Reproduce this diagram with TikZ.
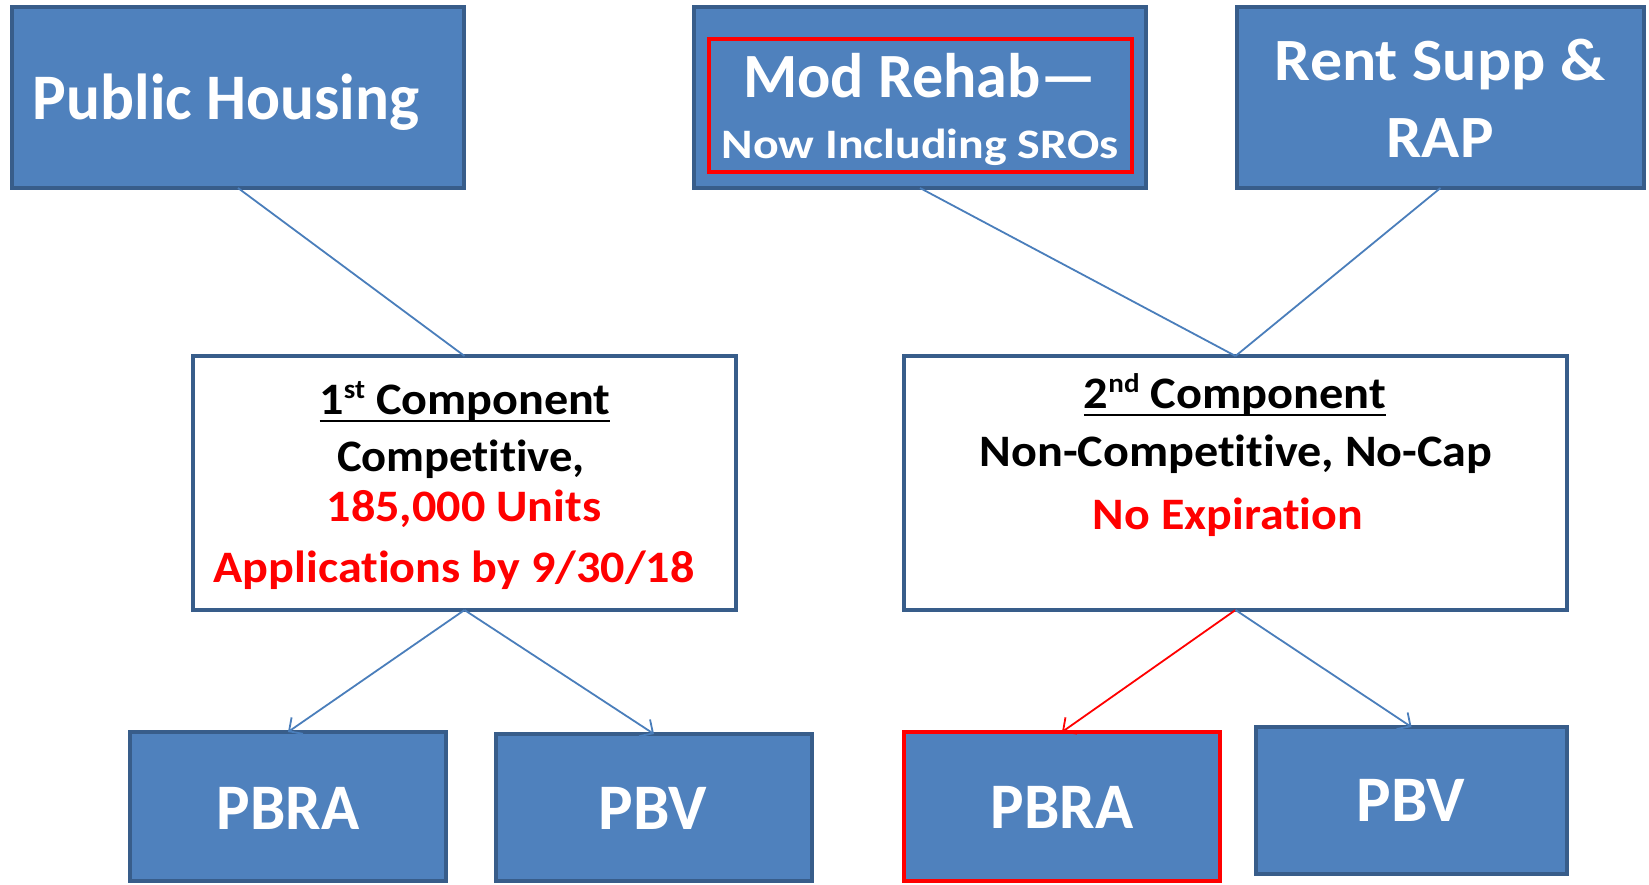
\documentclass[tikz,border=0pt]{standalone}
\usepackage{graphicx}
\usepackage{fontspec}
\setmainfont{Carlito}[Ligatures={NoCommon}]
\usetikzlibrary{arrows.meta}
\definecolor{boxfill}{HTML}{4F81BD}
\definecolor{boxline}{HTML}{385D8A}
\definecolor{connc}{HTML}{4A7EBB}
\definecolor{hired}{HTML}{FF0000}
\newcommand{\hsx}[2]{\scalebox{#1}[1]{#2}}
\newcommand{\nti}{t\kern0pt i}
\begin{document}
\begin{tikzpicture}[x=1pt,y=-1pt,
  bluebox/.style={draw=boxline, fill=boxfill, line width=4.5pt, inner sep=0pt, outer sep=0pt},
  whitebox/.style={draw=boxline, fill=white, line width=4pt, inner sep=0pt, outer sep=0pt},
  redframe/.style={draw=hired, line width=4.5pt, inner sep=0pt, outer sep=0pt},
  txt/.style={anchor=base, inner sep=0pt, outer sep=0pt},
  wtxt/.style={txt, text=white},
  btxt/.style={txt, text=black, font=\bfseries\fontsize{45}{50}\selectfont},
  rtxt/.style={txt, text=hired, font=\bfseries\fontsize{45}{50}\selectfont},
  connline/.style={draw=connc, line width=1.8pt},
  arr/.style={connline, -{Straight Barb[length=10pt,width=20pt,line width=1.8pt]}},
]
\useasboundingbox (0,0) rectangle (1649,884);

% top boxes
\node[bluebox, minimum width=452pt, minimum height=181pt] (ph) at (238,97.5) {};
\node[bluebox, minimum width=452pt, minimum height=181pt] (mr) at (920,97.5) {};
\node[redframe, minimum width=423pt, minimum height=133pt] (mrin) at (920.5,105.5) {};
\node[bluebox, minimum width=407pt, minimum height=181pt] (rs) at (1440.5,97.5) {};

% component boxes
\node[whitebox, minimum width=543pt, minimum height=254pt] (c1) at (464.5,483) {};
\node[whitebox, minimum width=663pt, minimum height=254pt] (c2) at (1235.5,483) {};

% bottom boxes
\node[bluebox, minimum width=316pt, minimum height=149pt] (pbra1) at (288,806.5) {};
\node[bluebox, minimum width=316pt, minimum height=147pt] (pbv1) at (654,807.5) {};
\node[bluebox, draw=hired, minimum width=316pt, minimum height=149pt] (pbra2) at (1062,806.5) {};
\node[bluebox, minimum width=311pt, minimum height=147pt] (pbv2) at (1411.5,800.5) {};

% texts
\node[wtxt, font=\bfseries\fontsize{65}{70}\selectfont] (tph) at (226,119) {\hsx{0.975}{Public Housing}};
\node[wtxt, font=\bfseries\fontsize{63}{70}\selectfont] (tmr1) at (920,97) {\hsx{0.985}{Mod Rehab—}};
\node[wtxt, font=\bfseries\fontsize{42}{48}\selectfont] (tmr2) at (920,158) {\hsx{1.14}{Now Including SROs}};
\node[wtxt, font=\bfseries\fontsize{60}{66}\selectfont] (trs1) at (1440,80) {\hsx{1.065}{Rent Supp \&}};
\node[wtxt, font=\bfseries\fontsize{60}{66}\selectfont] (trs2) at (1440,157) {\hsx{1.05}{RAP}};

\node[btxt] (tc1a) at (465,414) {\hsx{1.07}{1\raisebox{16pt}{\fontsize{27}{27}\selectfont st} Component}};
\draw[line width=2.5pt] ([yshift=-7pt]tc1a.base west) -- ([yshift=-7pt]tc1a.base east);
\node[btxt] (tc1b) at (461,471) {\hsx{1.035}{Compe\nti\nti ve,}};
\node[rtxt] (tc1c) at (464,521) {\hsx{1.07}{185,000 Units}};
\node[rtxt] (tc1d) at (454,582) {\hsx{1.07}{Applica\nti ons by 9/30/18}};

\node[btxt] (tc2a) at (1235,408) {\hsx{1.075}{2\raisebox{16pt}{\fontsize{27}{27}\selectfont nd} Component}};
\draw[line width=2.5pt] ([yshift=-7pt]tc2a.base west) -- ([yshift=-7pt]tc2a.base east);
\node[btxt] (tc2b) at (1236,466) {\hsx{1.07}{Non-Compe\nti\nti ve, No-Cap}};
\node[rtxt] (tc2c) at (1228,529) {\hsx{1.065}{No Expira\nti on}};

\node[wtxt, font=\bfseries\fontsize{65}{70}\selectfont] (tp1) at (288,829) {\hsx{0.97}{PBRA}};
\node[wtxt, font=\bfseries\fontsize{65}{70}\selectfont] (tp2) at (653,829) {PBV};
\node[wtxt, font=\bfseries\fontsize{65}{70}\selectfont] (tp3) at (1062,828) {\hsx{0.97}{PBRA}};
\node[wtxt, font=\bfseries\fontsize{65}{70}\selectfont] (tp4) at (1411,821) {PBV};

% connectors
\draw[connline] (ph.south) -- (c1.north);
\draw[connline] (mr.south) -- (c2.north);
\draw[connline] (rs.south) -- (c2.north);
\draw[arr] (c1.south) -- (pbra1.north);
\draw[arr] (c1.south) -- (pbv1.north);
\draw[arr, draw=hired] (c2.south) -- (pbra2.north);
\draw[arr] (c2.south) -- (pbv2.north);
\end{tikzpicture}
\end{document}
